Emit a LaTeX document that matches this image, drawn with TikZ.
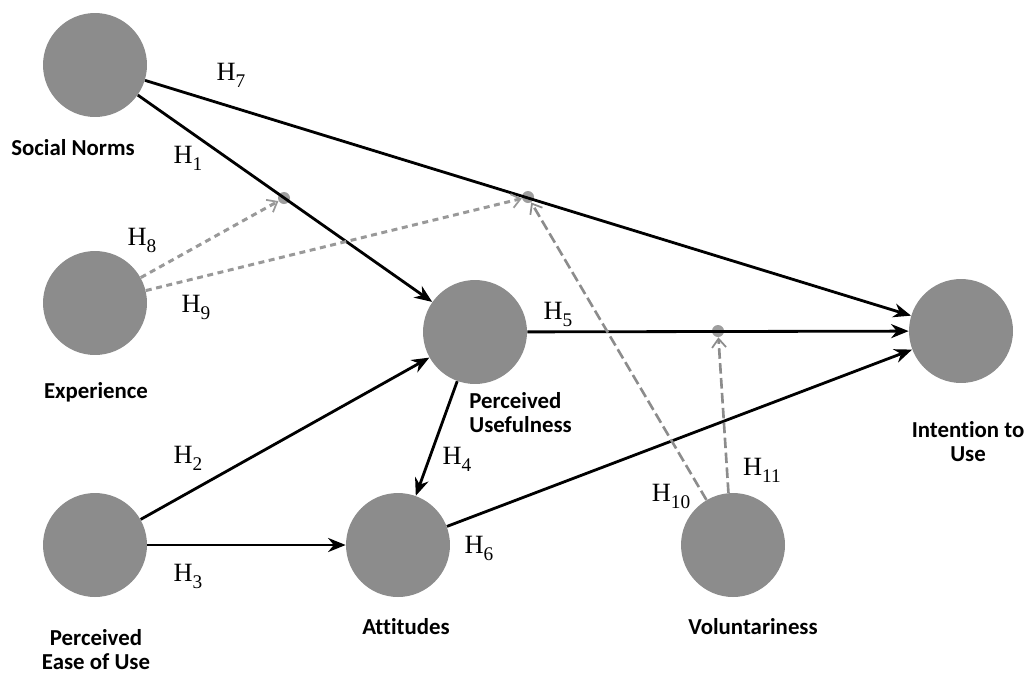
\documentclass[tikz,border=0pt]{standalone}
\usepackage{fontspec}
\setmainfont{Liberation Serif}
\newfontfamily\labelfont[Ligatures=NoCommon]{Carlito}
\usetikzlibrary{arrows.meta}
\newcommand\hsub[1]{H\raisebox{-4pt}{\fontsize{11}{11}\selectfont#1}}

\begin{document}
\begin{tikzpicture}[x=0.02cm,y=-0.02cm,
  construct/.style={circle,fill=black!45,minimum size=2.08cm,inner sep=0pt},
  clabel/.style={font=\labelfont\bfseries\fontsize{13}{13.6}\selectfont,align=center,inner sep=0pt},
  hyp/.style={font=\fontsize{15}{15}\selectfont,inner sep=0pt},
  moddot/.style={circle,fill=black!38,minimum size=0.24cm,inner sep=0pt},
  effect/.style={line width=1.6pt,-{Stealth[length=10pt,width=8pt]}},
  expline/.style={line width=1.7pt,black!40,dash pattern=on 3.4pt off 2.6pt,-{Straight Barb[length=5pt,width=8pt,line width=1pt]}},
  volline/.style={line width=1.5pt,black!45,dash pattern=on 6pt off 2.5pt,-{Straight Barb[length=5pt,width=8pt,line width=1pt]}}]
\useasboundingbox (0,0) rectangle (1026,673);
% Constructs
\node[construct] (sn) at (95,65) {};
\node[construct] (exp) at (95,303) {};
\node[construct] (peu) at (95,545) {};
\node[construct] (pu) at (475,332) {};
\node[construct] (att) at (398,545) {};
\node[construct] (iu) at (961,331) {};
\node[construct] (vol) at (733,545) {};
% Moderator points
\node[moddot] (m1) at (284,198) {};
\node[moddot] (m2) at (528,197) {};
\node[moddot] (m3) at (718,331) {};
% Direct effects
\draw[effect] (sn) -- (pu);
\draw[effect] (sn) -- (iu);
\draw[effect] (pu) -- (iu);
\draw[effect] (peu) -- (pu);
\draw[effect] (peu) -- (att);
\draw[effect] (pu) -- (att);
\draw[effect] (att) -- (iu);
% Moderating effects
\draw[expline] (exp) -- (m1);
\draw[expline] (exp) -- (m2);
\draw[volline] (vol) -- (m2);
\draw[volline] (vol.95) -- (m3);
% Construct names
\node[clabel] (snl) at (73,148) {Social Norms};
\node[clabel] (expl) at (96,392) {Experience};
\node[clabel] (peul) at (96,650) {Perceived\\Ease of Use};
\node[clabel,align=left,anchor=west] (pul) at (469,413) {Perceived\\Usefulness};
\node[clabel] (attl) at (406,627) {Attitudes};
\node[clabel] (voll) at (753,627) {Voluntariness};
\node[clabel] (iul) at (968,442) {Intention to\\Use};
% Hypotheses
\node[hyp] (h1) at (188,158) {\hsub{1}};
\node[hyp] (h2) at (188,458) {\hsub{2}};
\node[hyp] (h3) at (188,576) {\hsub{3}};
\node[hyp] (h4) at (457,459) {\hsub{4}};
\node[hyp] (h5) at (558,314) {\hsub{5}};
\node[hyp] (h6) at (479,548) {\hsub{6}};
\node[hyp] (h7) at (231,75) {\hsub{7}};
\node[hyp] (h8) at (142,240) {\hsub{8}};
\node[hyp] (h9) at (196,307) {\hsub{9}};
\node[hyp] (h10) at (671,496) {\hsub{10}};
\node[hyp] (h11) at (762,470) {\hsub{11}};
\end{tikzpicture}
\end{document}
